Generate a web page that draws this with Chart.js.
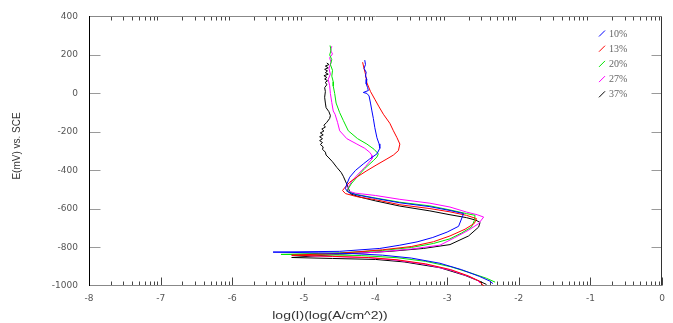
<!DOCTYPE html>
<html>
<head>
<meta charset="utf-8">
<script src="https://cdn.jsdelivr.net/npm/chart.js@4/dist/chart.umd.min.js"></script>
<style>
  html, body { margin: 0; padding: 0; background: #fff; }
  #chart { display: block; }
</style>
</head>
<body>
<canvas id="chart" width="673" height="323"></canvas>
<script>
// Polarization curves: each point is [log(I), E in mV vs. SCE]
const seriesNames = ["10%", "13%", "20%", "27%", "37%"]
const seriesColors = ["#0000ff", "#ff0000", "#00e600", "#ff00ff", "#000000"]
const xTicks = [-8, -7, -6, -5, -4, -3, -2, -1, 0]
const yTicks = [400, 200, 0, -200, -400, -600, -800, -1000]

const curve10 = [
  [-4.15, 173], [-4.14, 150], [-4.16, 130], [-4.13, 110], [-4.14, 90], [-4.12, 73],
  [-4.13, 50], [-4.11, 30], [-4.10, 15], [-4.17, 5], [-4.12, 0], [-4.09, -13],
  [-4.07, -50], [-4.05, -91], [-4.03, -130], [-4.01, -177], [-3.98, -230], [-3.95, -262],
  [-3.94, -285], [-3.98, -314], [-4.08, -340], [-4.17, -366], [-4.28, -400], [-4.36, -435],
  [-4.40, -470], [-4.42, -495], [-4.38, -513], [-4.25, -528], [-4.00, -545], [-3.66, -568],
  [-3.24, -588], [-2.96, -608], [-2.77, -624], [-2.80, -652], [-2.84, -690], [-3.00, -720],
  [-3.20, -748], [-3.42, -771], [-3.66, -788], [-3.94, -805], [-4.50, -820], [-5.43, -824],
  [-4.80, -828], [-4.30, -832], [-3.90, -840], [-3.50, -855], [-3.10, -882], [-2.80, -915],
  [-2.55, -950], [-2.40, -975], [-2.36, -988]
]

const curve13 = [
  [-4.18, 162], [-4.16, 130], [-4.14, 100], [-4.12, 55], [-4.07, 10], [-4.01, -30],
  [-3.95, -70], [-3.89, -108], [-3.80, -155], [-3.75, -194], [-3.70, -230], [-3.66, -263],
  [-3.68, -297], [-3.75, -320], [-3.84, -340], [-3.98, -370], [-4.12, -401], [-4.25, -432],
  [-4.36, -461], [-4.42, -485], [-4.46, -504], [-4.42, -520], [-4.26, -536], [-4.00, -552],
  [-3.66, -578], [-3.24, -598], [-2.96, -615], [-2.73, -633], [-2.59, -650], [-2.62, -675],
  [-2.75, -705], [-2.96, -740], [-3.19, -770], [-3.50, -795], [-3.90, -812], [-4.50, -830],
  [-5.17, -840], [-4.60, -846], [-4.10, -852], [-3.70, -864], [-3.30, -885], [-2.95, -915],
  [-2.70, -948], [-2.55, -975], [-2.49, -1000]
]

const curve20 = [
  [-4.635, 249], [-4.62, 225], [-4.64, 200], [-4.61, 175], [-4.63, 150], [-4.60, 120],
  [-4.61, 90], [-4.59, 60], [-4.59, 38], [-4.57, 0], [-4.55, -50], [-4.50, -100],
  [-4.45, -140], [-4.38, -194], [-4.25, -235], [-4.12, -263], [-4.02, -290], [-3.96, -314],
  [-3.98, -330], [-4.03, -349], [-4.15, -390], [-4.26, -435], [-4.34, -470], [-4.38, -495],
  [-4.40, -508], [-4.30, -522], [-4.05, -540], [-3.66, -565], [-3.24, -584], [-2.96, -605],
  [-2.73, -624], [-2.61, -633], [-2.62, -660], [-2.66, -694], [-2.80, -725], [-2.96, -755],
  [-3.19, -779], [-3.50, -800], [-3.90, -815], [-4.50, -828], [-5.32, -836], [-4.70, -838],
  [-4.20, -842], [-3.70, -853], [-3.30, -872], [-2.95, -900], [-2.65, -935], [-2.45, -960],
  [-2.33, -980]
]

const curve27 = [
  [-4.61, 245], [-4.63, 225], [-4.60, 205], [-4.64, 185], [-4.62, 160], [-4.65, 130],
  [-4.63, 100], [-4.66, 73], [-4.64, 40], [-4.63, 0], [-4.61, -48], [-4.59, -91],
  [-4.565, -108], [-4.53, -150], [-4.50, -194], [-4.40, -235], [-4.26, -263], [-4.15, -285],
  [-4.08, -306], [-4.05, -322], [-4.05, -340], [-4.14, -380], [-4.24, -418], [-4.33, -455],
  [-4.38, -487], [-4.40, -505], [-4.28, -518], [-4.00, -530], [-3.66, -550], [-3.24, -570],
  [-2.96, -590], [-2.73, -616], [-2.58, -630], [-2.49, -642], [-2.56, -676], [-2.70, -710],
  [-2.90, -750], [-3.10, -788], [-3.50, -808], [-4.00, -825], [-4.60, -835], [-5.17, -840],
  [-4.60, -847], [-4.10, -853], [-3.70, -866], [-3.30, -888], [-2.95, -918], [-2.70, -950],
  [-2.57, -972], [-2.54, -985]
]

const curve37 = [
  [-4.68, 158], [-4.65, 150], [-4.70, 142], [-4.66, 133], [-4.71, 125], [-4.67, 117],
  [-4.70, 108], [-4.66, 100], [-4.72, 92], [-4.68, 83], [-4.71, 75], [-4.67, 66],
  [-4.70, 58], [-4.68, 45], [-4.71, 30], [-4.70, 10], [-4.71, -20], [-4.70, -50],
  [-4.69, -74], [-4.65, -95], [-4.63, -115], [-4.64, -130], [-4.68, -150], [-4.72, -165],
  [-4.70, -175], [-4.75, -185], [-4.72, -195], [-4.77, -205], [-4.73, -215], [-4.78, -225],
  [-4.74, -235], [-4.78, -245], [-4.74, -255], [-4.77, -265], [-4.73, -278], [-4.74, -290],
  [-4.70, -305], [-4.69, -320], [-4.65, -335], [-4.60, -355], [-4.54, -384], [-4.48, -410],
  [-4.45, -430], [-4.42, -455], [-4.39, -480], [-4.37, -500], [-4.35, -522], [-4.20, -540],
  [-4.00, -558], [-3.66, -585], [-3.24, -610], [-2.96, -630], [-2.73, -645], [-2.60, -658],
  [-2.54, -670], [-2.56, -694], [-2.70, -740], [-2.96, -785], [-3.33, -805], [-3.80, -820],
  [-4.50, -835], [-5.17, -852], [-4.60, -857], [-4.00, -862], [-3.60, -875], [-3.10, -905],
  [-2.75, -945], [-2.55, -975], [-2.45, -992]
]

const curves = [curve10, curve13, curve20, curve27, curve37]

// frame, inward ticks (log-style minors on x), titles and legend
const framePlugin = {
  id: "frame",
  beforeDatasetsDraw(chart) {
    const { ctx, chartArea: a, scales: { x, y } } = chart
    const seg = (x1, y1, x2, y2) => {
      ctx.beginPath()
      ctx.moveTo(x1, y1)
      ctx.lineTo(x2, y2)
      ctx.stroke()
    }
    const L = Math.round(a.left) + 0.5
    const R = Math.round(a.right) - 0.5
    const T = Math.round(a.top) + 0.5
    const B = Math.round(a.bottom) - 0.5

    ctx.save()
    ctx.lineWidth = 1

    // y major ticks on both sides
    ctx.strokeStyle = "#9a9a9a"
    yTicks.forEach(v => {
      if (v === 400 || v === -1000) return
      const py = Math.round(y.getPixelForValue(v)) + 0.5
      seg(L, py, L + 11, py)
      seg(R - 10, py, R, py)
    })

    // x ticks, decades with 2..9 minors
    ctx.strokeStyle = "#444"
    for (let d = -8; d < 0; d++) {
      for (let k = 2; k <= 9; k++) {
        const px = Math.round(x.getPixelForValue(d + Math.log10(k))) + 0.5
        seg(px, B, px, B - 4)
        seg(px, T, px, T + 4)
      }
    }
    xTicks.forEach(v => {
      const px = Math.round(x.getPixelForValue(v)) + 0.5
      seg(px, B, px, B - 8)
    })

    ctx.strokeStyle = "#888"
    seg(L, T, R, T)
    seg(L, B, R, B)
    ctx.strokeStyle = "#333"
    seg(R, T, R, B)
    ctx.strokeStyle = "#000"
    seg(L, T - 0.5, L, B + 0.5)
    ctx.restore()
  },
  afterDraw(chart) {
    const { ctx } = chart
    ctx.save()
    ctx.fillStyle = "#333"
    ctx.textAlign = "center"
    ctx.textBaseline = "middle"

    ctx.save()
    ctx.translate(330, 316)
    ctx.scale(1.4, 1)
    ctx.font = "10px 'Liberation Sans', Arial, sans-serif"
    ctx.fillText("log(I)(log(A/cm^2))", 0, 0)
    ctx.restore()

    ctx.save()
    ctx.translate(17, 146)
    ctx.rotate(-Math.PI / 2)
    ctx.font = "10px 'Liberation Sans', Arial, sans-serif"
    ctx.fillText("E(mV) vs. SCE", 0, 0)
    ctx.restore()

    // legend: short slanted stroke + label
    ctx.textAlign = "left"
    ctx.font = "10px 'Liberation Serif', serif"
    seriesNames.forEach((name, i) => {
      const cy = 33.5 + i * 15.2
      ctx.strokeStyle = seriesColors[i]
      ctx.lineWidth = 1
      ctx.beginPath()
      ctx.moveTo(599, cy + 3)
      ctx.lineTo(605, cy - 3)
      ctx.stroke()
      ctx.fillStyle = "#666"
      ctx.fillText(name, 609, cy + 0.5)
    })
    ctx.restore()
  }
}

const datasets = curves.map((pts, i) => ({
  label: seriesNames[i],
  data: pts.map(p => ({ x: p[0], y: p[1] })),
  showLine: true,
  borderColor: seriesColors[i],
  borderWidth: 1,
  pointRadius: 0,
  tension: 0,
  fill: false
}))

const tickFont = { family: "'DejaVu Sans', sans-serif", size: 9 }

new Chart(document.getElementById("chart"), {
  type: "scatter",
  data: { datasets },
  options: {
    responsive: false,
    animation: false,
    layout: { padding: { top: 15, right: 11, left: 0, bottom: 0 } },
    plugins: {
      legend: { display: false },
      tooltip: { enabled: false }
    },
    scales: {
      x: {
        type: "linear",
        min: -8,
        max: 0,
        grid: { display: false, drawTicks: false },
        border: { display: false },
        ticks: { stepSize: 1, color: "#555", font: tickFont, padding: 7, callback: v => String(v) },
        afterFit: s => { s.height = 37 }
      },
      y: {
        type: "linear",
        min: -1000,
        max: 400,
        grid: { display: false, drawTicks: false },
        border: { display: false },
        ticks: { stepSize: 200, color: "#555", font: tickFont, padding: 11, callback: v => String(v) },
        afterFit: s => { s.width = 89 }
      }
    }
  },
  plugins: [framePlugin]
})
</script>
</body>
</html>
